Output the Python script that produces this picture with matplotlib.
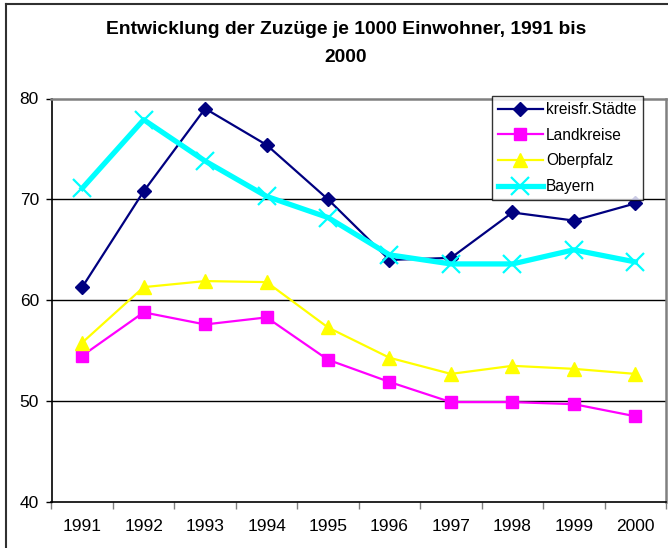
import numpy as np
import matplotlib
matplotlib.use("Agg")
import matplotlib.pyplot as plt
from matplotlib.lines import Line2D

plt.rcParams["font.family"] = ["Liberation Sans", "DejaVu Sans"]

# ── Data ──────────────────────────────────────────────────────────────────────
years       = ["1991", "1992", "1993", "1994", "1995", "1996", "1997", "1998", "1999", "2000"]
kreisfr     = [61.3, 70.8, 79.0, 75.4, 70.0, 64.0, 64.2, 68.7, 67.9, 69.6]
landkreise  = [54.5, 58.8, 57.6, 58.3, 54.1, 51.9, 49.9, 49.9, 49.7, 48.5]
oberpfalz   = [55.8, 61.3, 61.9, 61.8, 57.3, 54.3, 52.7, 53.5, 53.2, 52.7]
bayern      = [71.1, 77.9, 73.8, 70.3, 68.2, 64.5, 63.6, 63.6, 65.0, 63.8]
y_ticks     = [40, 50, 60, 70, 80]

W, H = 668, 548
fig = plt.figure(figsize=(W / 100, H / 100), dpi=100)
ax = fig.add_axes([51.5 / W, 1 - 502 / H, (666 - 51.5) / W, (502 - 98.5) / H])

x = np.arange(len(years))

# horizontal grid lines
for v in y_ticks[1:-1]:
    ax.axhline(v, color="black", linewidth=1.0, zorder=1)

ax.plot(x, kreisfr, color="#000080", linewidth=1.6, marker="D", markersize=7.5,
        markeredgecolor="#000080", label="kreisfr.Städte", zorder=3)
ax.plot(x, landkreise, color="#FF00FF", linewidth=1.6, marker="s", markersize=9,
        markeredgecolor="#FF00FF", label="Landkreise", zorder=3)
ax.plot(x, oberpfalz, color="#FFFF00", linewidth=1.6, marker="^", markersize=9.5,
        markeredgecolor="#FFFF00", label="Oberpfalz", zorder=3)
ax.plot(x, bayern, color="#00FFFF", linewidth=3.8, marker="x", markersize=13,
        markeredgewidth=1.6, label="Bayern", zorder=4)

ax.set_xlim(-0.5, len(years) - 0.5)
ax.set_ylim(40, 80)
ax.set_yticks(y_ticks)
ax.tick_params(axis="y", direction="out", length=4, width=1, pad=5,
               labelsize=12.5, color="black")
ax.set_xticks(x)
ax.set_xticklabels(years)
ax.set_xticks(np.arange(-0.5, len(years)), minor=True)
ax.tick_params(axis="x", which="major", length=0, pad=12, labelsize=12.5)
ax.tick_params(axis="x", which="minor", direction="out", length=5, width=1,
               color="#808080")

for side in ["top", "right"]:
    ax.spines[side].set_color("#808080")
    ax.spines[side].set_linewidth(1.8)
for side in ["left", "bottom"]:
    ax.spines[side].set_color("black")
    ax.spines[side].set_linewidth(1.2)

leg = ax.legend(loc="upper left", bbox_to_anchor=(491.7 / W, 1 - 96 / H),
                bbox_transform=fig.transFigure, fontsize=11.2, frameon=True,
                fancybox=False, shadow=False, handlelength=2.9, handletextpad=0.2,
                labelspacing=0.68, borderpad=0.4, borderaxespad=0)
leg.get_frame().set_edgecolor("black")
leg.get_frame().set_linewidth(1.0)
leg.set_zorder(10)

fig.text(346 / W, 1 - 30 / H, "Entwicklung der Zuzüge je 1000 Einwohner, 1991 bis",
         ha="center", va="center", fontsize=13.9, fontweight="bold")
fig.text(346 / W, 1 - 57 / H, "2000", ha="center", va="center",
         fontsize=13.9, fontweight="bold")

# chart area border (left and top edges visible)
fig.add_artist(Line2D([6 / W, 6 / W], [0, 1 - 4 / H], transform=fig.transFigure,
                      color="#303030", linewidth=1.5))
fig.add_artist(Line2D([6 / W, 1], [1 - 4 / H, 1 - 4 / H], transform=fig.transFigure,
                      color="#303030", linewidth=1.5))

fig.savefig("out.png", dpi=100)
